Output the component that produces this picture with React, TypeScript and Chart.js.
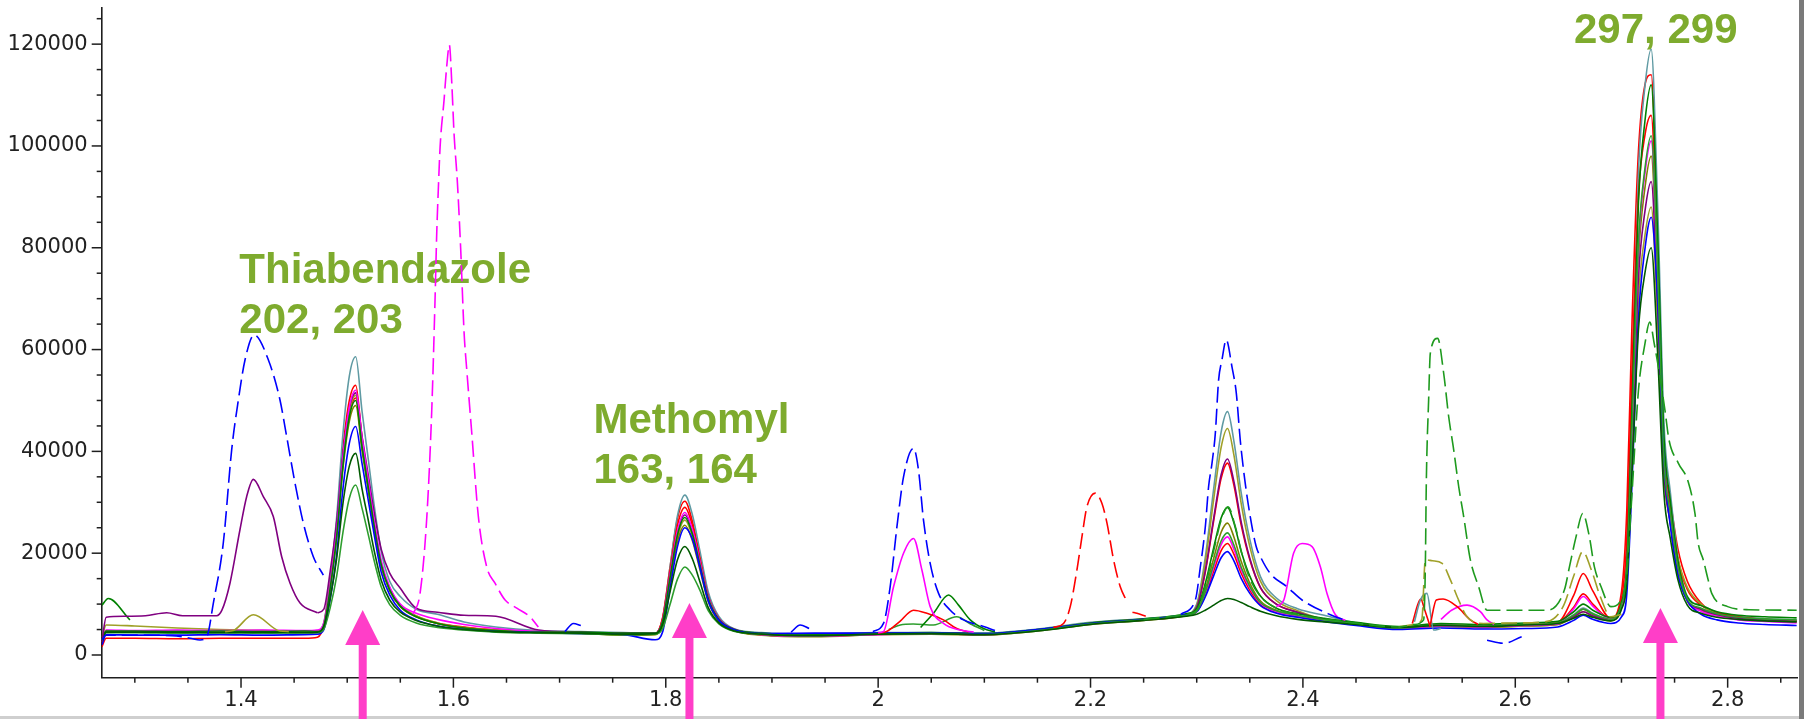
import React, { useEffect, useRef } from 'react';
import { Chart, registerables } from 'chart.js';
Chart.register(...registerables);

// ---- axis ranges / ticks ----
const X_MIN = 1.2688;
const X_MAX = 2.8653;
const Y_MIN = -4460;
const Y_MAX = 127100;
const X_LABEL_TICKS = [1.4, 1.6, 1.8, 2.0, 2.2, 2.4, 2.6, 2.8];
const Y_LABEL_TICKS = [0, 20000, 40000, 60000, 80000, 100000, 120000];

// ---- shared retention-time grid for the overlaid sample traces ----
const T = [1.269,1.273,1.3,1.34,1.38,1.42,1.46,1.472,
  1.478,1.484,1.49,1.496,1.502,1.508,1.514,1.52,1.526,1.532,1.54,1.55,1.565,1.585,1.61,1.64,1.68,
  1.72,1.76,1.79,1.797,1.804,1.811,1.818,1.825,1.832,1.84,1.85,1.865,1.89,
  1.94,2.0,2.05,2.1,2.15,2.2,2.25,2.29,
  2.3,2.308,2.316,2.323,2.329,2.335,2.342,2.35,2.36,2.375,2.395,2.42,2.45,2.49,
  2.53,2.57,2.61,2.64,2.655,2.664,2.673,2.69,
  2.7,2.705,2.71,2.716,2.722,2.728,2.734,2.74,2.746,2.753,2.762,2.775,2.79,2.81,2.835,2.865];

const tealY = [3000,4800,4700,4800,4700,4800,4700,4800,
  6400,15000,26900,43500,54800,58600,47800,38200,28500,20400,14500,11500,9000,8000,6500,5500,4800,
  4600,4400,4300,7000,17300,27300,31400,27600,20600,12400,7600,5100,4400,
  4100,4400,4400,4300,5100,6400,7100,8000,
  10000,19100,32700,43800,47800,42000,31700,22700,15400,11200,9100,7800,6300,5500,
  5900,5700,5900,6300,7900,9200,8200,7000,
  10400,18400,52400,95000,111500,119000,88700,45600,32000,19500,11500,9800,8400,7600,7100,6900];

const redY = [1600,3300,3300,3200,3300,3300,3300,3500,
  6000,14900,25800,40600,50000,53000,42600,33700,24800,17500,13200,9600,7600,6200,5400,4900,4500,
  4300,4100,4200,7300,17200,26800,30200,26300,19300,11700,7200,4900,4100,
  3900,4200,4300,4100,4900,6200,6900,7900,
  9400,16200,26400,34700,37700,33400,25400,18700,13200,10000,8400,6900,6100,5300,
  6000,5700,6000,6400,11700,16000,12600,7200,
  12400,28400,65900,99000,111900,114000,81900,40200,30500,21000,14500,10200,8000,7200,6800,6500];

const magentaY = [2500,4900,4800,4900,4800,4900,4800,4900,
  6300,13800,24200,38800,48700,52000,42600,34100,25600,18600,13400,10000,8200,7000,6000,5200,4600,
  4400,4200,4300,6700,15700,24400,28000,24700,18500,11400,7100,5000,4000,
  3700,4000,4200,4000,4800,6100,6900,7800,
  8600,12100,17300,21700,23200,20800,16700,13200,10200,8500,7700,6800,6000,5200,
  5700,5500,5800,6100,9100,11500,9600,7000,
  9700,16300,44500,80300,94400,101000,74700,38900,27600,17300,10700,8600,7600,6900,6600,6300];

const greenY = [3300,4700,4700,4600,4700,4600,4700,4600,
  5800,13200,23200,37300,46800,50000,40900,32700,24600,17800,12800,9600,7500,6200,5300,4800,4500,
  4500,4300,4300,6600,15200,23600,27000,23800,17900,11100,7000,5000,4300,
  4000,4300,4400,4200,5000,6300,7100,8100,
  9100,14000,21100,26900,29000,26000,20300,15500,11600,9200,8100,7200,6400,5600,
  6200,6000,6300,6600,8500,10000,8800,7400,
  10300,17700,49100,88900,104700,112000,82700,42800,30300,18700,11400,9700,8500,7800,7500,7300];

const oliveY = [3500,5900,5700,5300,5000,4800,4700,4700,
  6100,13500,23700,38000,47800,51000,41700,33400,25100,18100,13000,9800,7700,6300,5400,4900,4600,
  4300,4000,4100,6300,14900,23100,26500,23400,17500,10800,6800,4800,4000,
  3700,4100,4200,4100,4900,6200,7000,7900,
  9700,18100,30600,40800,44500,39300,29600,21300,14500,10700,8700,7000,6200,5400,
  5700,5400,5700,6000,7400,8500,7600,6700,
  9200,14900,39300,70100,82300,88000,65300,35200,26300,19000,13300,10000,8000,7200,6900,6600];

const purpleY = [null,null,null,null,null,null,null,8300,
  9000,16500,26000,39400,48500,51500,42900,35100,27300,20800,16100,13100,9200,8400,7800,7600,4900,
  4500,4300,4300,6600,15400,24000,27500,24300,18200,11300,7100,5000,4200,
  3900,4200,4300,4100,4900,6200,7000,7900,
  9400,16500,26900,35400,38500,34100,26000,19000,13300,10000,8400,7000,6200,5400,
  5900,5600,5900,6200,7500,8500,7700,6900,
  9600,15600,41400,74100,87000,93000,68900,36200,25900,16500,10700,9000,7900,7200,6800,6600];

const blueY = [2000,4000,3900,3900,4000,3900,4000,4100,
  5000,11000,19600,32700,41600,44900,37600,30200,22900,16300,11800,8800,6900,5700,5000,4600,4400,
  4200,4000,3000,4500,13000,21300,25000,22800,17300,10600,6800,4900,4200,
  4300,4300,4300,4200,5000,6200,7000,7900,
  8500,11400,15600,19100,20300,18500,15000,12100,9700,8200,7400,6600,5800,5000,
  5300,5100,5200,5500,6800,7800,7000,6200,
  7500,11900,34200,66100,79600,86000,70100,38200,25400,15900,10700,8000,6900,6300,6000,5800];

const darkGreenY = [2600,4500,4500,4500,4400,4500,4400,4500,
  5600,11200,18900,29800,37100,39600,32600,26300,19900,14700,10800,8400,6800,5700,5000,4600,4400,
  4300,4100,4200,5900,12400,18700,21300,18900,14500,9300,6300,4700,4100,
  3800,4100,4200,4000,4700,6000,6800,7600,
  8000,8800,9800,10700,11100,10900,10300,9500,8600,7700,7000,6500,6000,5400,
  5800,5600,5900,6200,7200,8000,7400,6700,
  9000,14100,36100,63900,74900,80000,59500,31700,22900,14900,9800,8200,7400,7000,6700,6500];

const green2Y = [3000,4400,4400,4300,4400,4300,4400,4400,
  5100,9300,15400,24100,30800,33400,28800,23500,18000,13400,9900,7800,6300,5400,4900,4500,4300,
  4200,4000,4100,5200,9900,14900,17300,15700,12800,8700,6100,4600,4100,
  3800,4100,4200,4000,4800,6100,6900,7800,
  8600,12300,17800,22400,24000,21600,17200,13500,10300,8700,7800,6900,6100,5300,
  5900,5700,6000,6300,7800,9000,8100,7000,
  9900,16500,45000,81100,95400,102000,75400,38400,27900,17500,11000,9200,8100,7400,7100,6900];

const red2Y = [2200,4600,4600,4500,4600,4500,4600,4600,
  6000,13800,24300,38100,47300,50500,40900,32600,24300,17700,12900,9700,7600,6300,5500,4900,4500,
  4400,4100,4200,7200,16600,25500,29000,25500,19100,11600,7200,4900,4000,
  3800,4100,4300,4100,4900,6200,6900,7800,
  8500,11700,16500,20500,21900,19800,16000,12700,9900,8400,7600,6800,6000,5300,
  5800,5600,5900,6300,9400,12000,10000,7100,
  11000,22800,56500,90200,102000,106000,77300,39700,28800,18900,12900,9800,8300,7500,7000,6700];

const olive2Y = [2800,4700,4700,4600,4700,4600,4600,4600,
  5900,13000,22800,36600,45900,49000,40100,32100,24100,17500,12600,9500,7500,6200,5300,4800,4400,
  4300,3900,4000,6200,14300,22300,25500,22500,16900,10500,6600,4700,3900,
  3600,4000,4100,3900,4700,6000,6800,7700,
  8600,12800,19000,24100,25900,23200,18300,14100,10600,8800,7700,6800,6000,5200,
  5600,5400,5700,6000,7700,9000,8000,6800,
  9600,16000,43300,78000,91600,98000,72500,37000,26900,16900,10600,8800,7800,7100,6800,6600];

// ---- individual trace pieces ([time, intensity]) ----
const purpleLead: [number, number][] = [[1.269,2600],[1.273,7400],[1.29,7600],[1.31,7700],[1.33,8300],[1.345,7700],[1.377,7700],[1.382,8800],[1.3896,14100],[1.399,24600],[1.4053,31100],[1.4116,34500],[1.421,31100],[1.4304,27200],[1.4383,19300],[1.4462,14100],[1.4556,10200],[1.472,8300]];
const greenLead: [number, number][] = [[1.269,9800],[1.275,11100],[1.2954,6900]];
const oliveBump: [number, number][] = [[1.385,4600],[1.3927,4800],[1.4116,7900],[1.4367,4700],[1.445,4600]];
const blueDashA: [number, number][] = [[1.269,3000],[1.273,3900],[1.3,3900],[1.335,3800],[1.352,3300],[1.3614,2950],[1.368,3700],[1.3739,10150],[1.3833,22000],[1.3912,40300],[1.3975,50100],[1.4038,58000],[1.4124,62900],[1.4257,58000],[1.4367,50100],[1.443,42900],[1.4509,33700],[1.4587,25900],[1.4681,19300],[1.4775,15700]];
const magentaDash: [number, number][] = [[1.562,8000],[1.5686,12100],[1.575,27200],[1.5796,48000],[1.5827,69700],[1.5843,82800],[1.5859,92000],[1.5875,99900],[1.5912,109000],[1.5937,115600],[1.5962,119800],[1.5985,112300],[1.6006,102500],[1.6038,92700],[1.6069,79600],[1.6101,63200],[1.6126,56000],[1.6173,43600],[1.6235,27200],[1.6314,17300],[1.6392,14100],[1.6487,10800],[1.6597,9200],[1.6722,7500],[1.68,5500]];
const blueBumpA: [number, number][] = [[1.705,4600],[1.713,6200],[1.72,5800]];
const blueBumpB: [number, number][] = [[1.918,4500],[1.9266,5900],[1.935,5200]];
const blueDashB: [number, number][] = [[1.995,4600],[2.005,6200],[2.0113,13400],[2.0177,25200],[2.0239,35000],[2.0333,40600],[2.038,36300],[2.0427,26500],[2.049,18000],[2.0569,12100],[2.0679,8800],[2.0804,6900],[2.0993,5600],[2.11,4800]];
const magentaB: [number, number][] = [[2.0,4400],[2.005,4600],[2.0145,13400],[2.0239,20000],[2.0333,22900],[2.0412,16700],[2.049,9500],[2.0615,6200],[2.0773,4900],[2.09,4500]];
const redB: [number, number][] = [[2.0,4300],[2.008,4600],[2.02,6500],[2.0333,8800],[2.0459,8200],[2.0615,6900],[2.074,5200],[2.085,4500]];
const greenB: [number, number][] = [[2.04,5400],[2.0521,8200],[2.0663,11800],[2.0757,9800],[2.0867,6900],[2.0993,5200],[2.11,4500]];
const green2B: [number, number][] = [[2.01,5000],[2.0208,5900],[2.033,6100],[2.052,5900],[2.074,7500],[2.087,6100],[2.1,4800]];
const redDash: [number, number][] = [[2.165,5400],[2.1746,6200],[2.1809,9500],[2.1872,16700],[2.1919,23200],[2.1966,29100],[2.2045,31800],[2.2107,29800],[2.2155,25900],[2.2217,18700],[2.228,13400],[2.2343,10500]];
const redTick: [number, number][] = [[2.2395,8400],[2.2437,8200],[2.252,7600]];
const blueDashC: [number, number][] = [[2.285,8000],[2.2987,10800],[2.3034,17300],[2.3081,25200],[2.3112,33100],[2.3144,37700],[2.3175,43500],[2.3206,54000],[2.3238,58000],[2.3278,61900],[2.3332,56600],[2.3373,51400],[2.341,42200],[2.3457,33700],[2.3504,27200],[2.356,21300],[2.36,19300],[2.3693,16000],[2.385,13400],[2.3992,10800],[2.4259,7900],[2.44,6800]];
const magentaC: [number, number][] = [[2.375,9500],[2.382,10800],[2.3912,20000],[2.3992,21900],[2.4086,21300],[2.4165,17300],[2.4227,12100],[2.4306,7900],[2.44,6800]];
const greenDash: [number, number][] = [[2.25,7000],[2.29,8000],[2.3,8800],[2.308,13500],[2.316,20500],[2.323,26500],[2.3295,29100],[2.336,25500],[2.343,19500],[2.35,15000],[2.36,11500],[2.375,9200],[2.4,7800],[2.43,6800],[2.46,6000],[2.49,5500],[2.505,6000],[2.5137,6900],[2.5153,17300],[2.5162,33700],[2.5184,50100],[2.52,59300],[2.5269,62200],[2.5326,55300],[2.5373,46800],[2.542,40300],[2.5467,33100],[2.5514,27200],[2.5577,18700],[2.5655,13400],[2.5734,8800],[2.6,8800],[2.63,8800],[2.6463,12800],[2.651,17300],[2.6572,23200],[2.6635,27800],[2.6698,23200],[2.6745,17300],[2.6808,13400],[2.69,9500],[2.7,11000],[2.705,16000],[2.71,32000],[2.716,52000],[2.722,61000],[2.7266,65400],[2.731,61000],[2.736,55000],[2.741,48000],[2.7448,42200],[2.7535,37700],[2.7629,34000],[2.7692,27800],[2.7723,21900],[2.777,18700],[2.7817,14700],[2.785,12100],[2.8,9500],[2.82,8900],[2.865,8800]];
const oliveDash: [number, number][] = [[2.49,5500],[2.505,6000],[2.512,7000],[2.5153,18700],[2.522,18500],[2.5311,18000],[2.539,14700],[2.5452,11500],[2.5546,7500],[2.57,6200],[2.6,6300],[2.63,6600],[2.645,9500],[2.655,15500],[2.6635,20300],[2.672,16500],[2.68,11500],[2.69,7500],[2.7,8000]];
const redD: [number, number][] = [[2.52,6000],[2.5256,10800],[2.532,11000],[2.5452,9500],[2.5577,6900],[2.565,6000]];
const magentaD: [number, number][] = [[2.53,7000],[2.54,8800],[2.5546,9800],[2.5671,8500],[2.5734,6900],[2.58,6000]];
const tealSpike: [number, number][] = [[2.505,6500],[2.5106,10800],[2.5168,12100],[2.5231,4900],[2.53,5200]];
const redSpike: [number, number][] = [[2.503,6200],[2.511,11000],[2.5145,9000],[2.52,5500]];
const blueDip: [number, number][] = [[2.5734,2900],[2.5891,2300],[2.606,3600]];

// ---- annotations ----
const LABEL_TEXTS = ['Thiabendazole', '202, 203', 'Methomyl', '163, 164', '297, 299'];
const LABEL_X = [1.3984, 1.3984, 1.7319, 1.7319, 2.6553];
const LABEL_Y = [73000, 63200, 43550, 33730, 120200];
const ARROW_X = [1.5146, 1.8223, 2.7367];
const ARROW_TIP_Y = [8840, 10200, 9230];

const COLORS = {
  teal: '#5f9aa3', red: '#ff0000', magenta: '#ff00ff', green: '#008000', olive: '#a0a028',
  purple: '#800080', blue: '#0000ff', darkGreen: '#005a00', green2: '#2e9e2e', olive2: '#808000',
  greenDash: '#1e9a1e',
};
const DASH = [16, 6];

type Trace = { color: string; dash?: boolean; values?: (number | null)[]; points?: [number, number][] };

const traces: Trace[] = [
  { color: COLORS.blue, dash: true, points: blueDashA },
  { color: COLORS.magenta, dash: true, points: magentaDash },
  { color: COLORS.blue, dash: true, points: blueDashB },
  { color: COLORS.red, dash: true, points: redDash },
  { color: COLORS.blue, dash: true, points: blueDashC },
  { color: COLORS.greenDash, dash: true, points: greenDash },
  { color: COLORS.olive, dash: true, points: oliveDash },
  { color: COLORS.blue, dash: true, points: blueDip },
  { color: COLORS.purple, points: purpleLead },
  { color: COLORS.green, points: greenLead },
  { color: COLORS.olive, points: oliveBump },
  { color: COLORS.blue, points: blueBumpA },
  { color: COLORS.blue, points: blueBumpB },
  { color: COLORS.magenta, points: magentaB },
  { color: COLORS.red, points: redB },
  { color: COLORS.green, points: greenB },
  { color: COLORS.green2, points: green2B },
  { color: COLORS.red, points: redTick },
  { color: COLORS.magenta, points: magentaC },
  { color: COLORS.red, points: redD },
  { color: COLORS.magenta, points: magentaD },
  { color: COLORS.teal, points: tealSpike },
  { color: COLORS.red, points: redSpike },
  { color: COLORS.darkGreen, values: darkGreenY },
  { color: COLORS.green2, values: green2Y },
  { color: COLORS.blue, values: blueY },
  { color: COLORS.green, values: greenY },
  { color: COLORS.magenta, values: magentaY },
  { color: COLORS.purple, values: purpleY },
  { color: COLORS.olive2, values: olive2Y },
  { color: COLORS.olive, values: oliveY },
  { color: COLORS.red, values: red2Y },
  { color: COLORS.teal, values: tealY },
  { color: COLORS.red, values: redY },
];

const decorPlugin = {
  id: 'decor',
  beforeDatasetsDraw(chart: any) {
    const { ctx, scales } = chart;
    ctx.save();
    ctx.fillStyle = '#7eab2e';
    ctx.font = 'bold 42px "Liberation Sans", Arial, sans-serif';
    ctx.textAlign = 'left';
    ctx.textBaseline = 'alphabetic';
    LABEL_TEXTS.forEach((t, i) => {
      ctx.fillText(t, scales.x.getPixelForValue(LABEL_X[i]), scales.y.getPixelForValue(LABEL_Y[i]));
    });
    ctx.restore();
  },
  afterDraw(chart: any) {
    const { ctx, chartArea, scales, width, height } = chart;
    ctx.save();
    ctx.strokeStyle = '#1e1e1e';
    ctx.lineWidth = 1.5;
    for (let k = 26; k <= 57; k++) {
      const px = scales.x.getPixelForValue(k * 0.05);
      if (px < chartArea.left || px > chartArea.right) continue;
      const len = k % 4 === 0 ? 10 : 5;
      ctx.beginPath();
      ctx.moveTo(px, chartArea.bottom);
      ctx.lineTo(px, chartArea.bottom + len);
      ctx.stroke();
    }
    for (let k = 0; k <= 25; k++) {
      const py = scales.y.getPixelForValue(k * 5000);
      if (py < chartArea.top) continue;
      const len = k % 4 === 0 ? 10 : 5;
      ctx.beginPath();
      ctx.moveTo(chartArea.left, py);
      ctx.lineTo(chartArea.left - len, py);
      ctx.stroke();
    }
    ctx.fillStyle = '#cfcfcf';
    ctx.fillRect(0, height - 3, width - 5, 3);
    ctx.fillStyle = '#7a7a7a';
    ctx.fillRect(width - 5, 0, 5, height);
    ctx.fillStyle = '#ff3ec8';
    ARROW_X.forEach((ax, i) => {
      const x = scales.x.getPixelForValue(ax);
      const tip = scales.y.getPixelForValue(ARROW_TIP_Y[i]);
      ctx.beginPath();
      ctx.moveTo(x, tip);
      ctx.lineTo(x + 17.5, tip + 35);
      ctx.lineTo(x - 17.5, tip + 35);
      ctx.closePath();
      ctx.fill();
      ctx.fillRect(x - 4, tip + 34, 8, height - tip - 34);
    });
    ctx.restore();
  },
};

export default function App() {
  const ref = useRef<HTMLCanvasElement>(null);
  useEffect(() => {
    const canvas = ref.current;
    if (!canvas) return;
    const datasets = traces.map((tr) => ({
      data: tr.points
        ? tr.points.map(([x, y]) => ({ x, y }))
        : T.map((x, i) => ({ x, y: tr.values![i] })).filter((p) => p.y !== null),
      borderColor: tr.color,
      borderWidth: 1.6,
      borderDash: tr.dash ? DASH : [],
      pointRadius: 0,
      fill: false,
      cubicInterpolationMode: 'monotone' as const,
    }));
    const tickFont = { family: '"DejaVu Sans", sans-serif', size: 21 };
    const chart = new Chart(canvas, {
      type: 'line',
      data: { datasets: datasets as any },
      options: {
        animation: false,
        responsive: false,
        devicePixelRatio: 1,
        layout: { padding: { top: 8, right: 7, left: 0, bottom: 0 } },
        plugins: { legend: { display: false }, tooltip: { enabled: false } },
        scales: {
          x: {
            type: 'linear',
            min: X_MIN,
            max: X_MAX,
            afterBuildTicks: (s: any) => { s.ticks = X_LABEL_TICKS.map((v) => ({ value: v })); },
            afterFit: (s: any) => { s.height = 41.3; s.paddingLeft = 0; s.paddingRight = 0; },
            grid: { display: true, drawOnChartArea: false, drawTicks: true, tickLength: 10, tickColor: 'rgba(0,0,0,0)' },
            border: { display: true, color: '#1e1e1e', width: 1.6 },
            ticks: {
              font: tickFont, color: '#222', padding: 0, maxRotation: 0, autoSkip: false,
              callback: (v: any) => String(Number(Number(v).toFixed(1))),
            },
          },
          y: {
            type: 'linear',
            min: Y_MIN,
            max: Y_MAX,
            afterBuildTicks: (s: any) => { s.ticks = Y_LABEL_TICKS.map((v) => ({ value: v })); },
            afterFit: (s: any) => { s.width = 101.7; s.paddingTop = 0; s.paddingBottom = 0; },
            grid: { display: true, drawOnChartArea: false, drawTicks: true, tickLength: 10, tickColor: 'rgba(0,0,0,0)' },
            border: { display: true, color: '#1e1e1e', width: 1.6 },
            ticks: {
              font: tickFont, color: '#222', padding: 4, autoSkip: false,
              callback: (v: any) => String(v),
            },
          },
        },
      },
      plugins: [decorPlugin],
    });
    return () => chart.destroy();
  }, []);
  return (
    <div style={{ position: 'fixed', left: 0, top: 0, width: 1804, height: 719, background: '#ffffff' }}>
      <canvas ref={ref} width={1804} height={719} style={{ display: 'block', width: 1804, height: 719 }} />
    </div>
  );
}
